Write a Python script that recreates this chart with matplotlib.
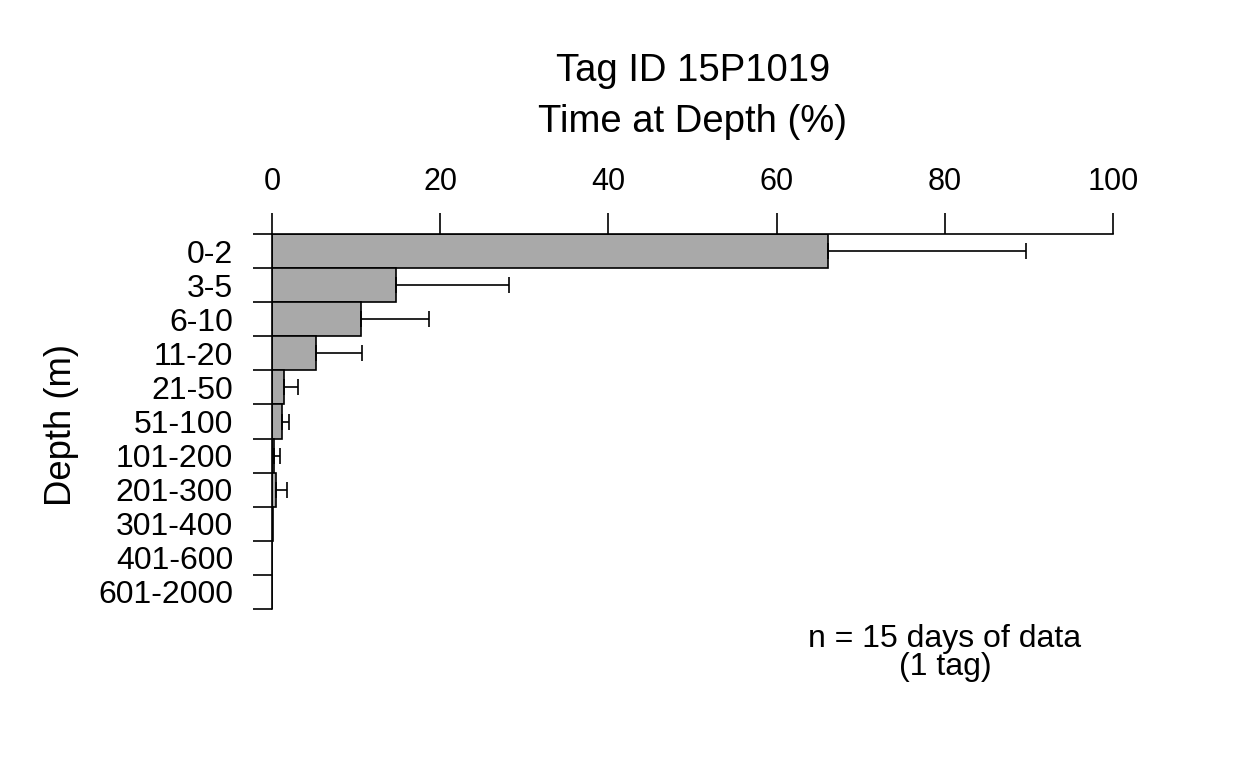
import matplotlib
matplotlib.use("Agg")
import matplotlib.pyplot as plt
import numpy as np

plt.rcParams['font.family'] = ['Liberation Sans', 'DejaVu Sans']

depth_bins = ["0-2", "3-5", "6-10", "11-20", "21-50", "51-100", "101-200",
              "201-300", "301-400", "401-600", "601-2000"]
time_pct = [66.1, 14.7, 10.6, 5.2, 1.4, 1.2, 0.25, 0.5, 0.08, 0.0, 0.0]
err_upper = [23.6, 13.5, 8.1, 5.5, 1.7, 0.8, 0.75, 1.3, 0.0, 0.0, 0.0]
x_ticks = [0, 20, 40, 60, 80, 100]
title_lines = ["Tag ID 15P1019", "Time at Depth (%)"]
note_lines = "n = 15 days of data\n(1 tag)"

fig = plt.figure(figsize=(12.48, 7.68), dpi=100)
ax = fig.add_axes([272/1248, 1 - 609/768, (1113 - 272)/1248, (609 - 234)/768])

n = len(depth_bins)
ypos = np.arange(n) + 0.5
ax.barh(ypos, time_pct, height=1.0, color="#A9A9A9", edgecolor="black", linewidth=1.2)

for y, v, e in zip(ypos, time_pct, err_upper):
    if e > 0:
        ax.errorbar([v], [y], xerr=[[0], [e]], fmt="none", ecolor="black",
                    elinewidth=1.2, capsize=6, capthick=1.2)

ax.set_xlim(0, 100)
ax.set_ylim(n, 0)

ax.xaxis.set_ticks_position("top")
ax.set_xticks(x_ticks)
ax.set_xticklabels([str(t) for t in x_ticks])
ax.tick_params(axis="x", which="major", direction="out", length=15, width=1.2,
               labelsize=22, pad=12)

ax.set_yticks(np.arange(n + 1))
ax.set_yticklabels([])
ax.set_yticks(ypos, minor=True)
ax.set_yticklabels(depth_bins, minor=True)
ax.tick_params(axis="y", which="major", direction="out", length=14, width=1.2)
ax.tick_params(axis="y", which="minor", length=0, labelsize=23, pad=28)

for s in ["bottom", "right"]:
    ax.spines[s].set_visible(False)
for s in ["top", "left"]:
    ax.spines[s].set_linewidth(1.2)

fig.text(62/1248, 1 - 425/768, "Depth (m)", rotation=90, ha="center", va="center", fontsize=26.3)
fig.text(693/1248, 1 - 71/768, title_lines[0], ha="center", va="center", fontsize=27.5)
fig.text(693/1248, 1 - 122/768, title_lines[1], ha="center", va="center", fontsize=27.5)
fig.text(945/1248, 1 - 653/768, note_lines, ha="center", va="center", fontsize=23,
         linespacing=0.92)

fig.savefig("out.png", dpi=100)
